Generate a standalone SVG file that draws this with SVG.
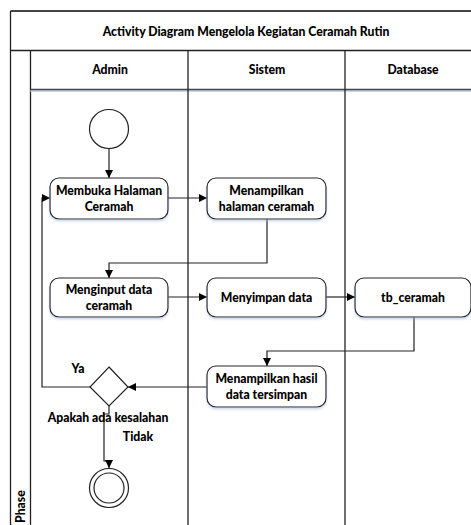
<svg xmlns="http://www.w3.org/2000/svg" width="471" height="525" viewBox="0 0 471 525">
  <defs>
    <marker id="arrow" viewBox="0 0 10 10" refX="10" refY="5" markerWidth="8" markerHeight="8" markerUnits="userSpaceOnUse" orient="auto">
      <path d="M0,0 L10,5 L0,10 Z" fill="#000"/>
    </marker>
    <filter id="shadow" x="-10%" y="-10%" width="130%" height="140%">
      <feDropShadow dx="0" dy="2" stdDeviation="1" flood-color="#9fb3d6" flood-opacity="0.5"/>
    </filter>
  </defs>
  <style>
    text { font-family: Lato, "Liberation Sans", sans-serif; font-weight: 900; font-size: 12.2px; fill: #000; }
    .c { text-anchor: middle; }
    .frame { fill: none; stroke: #222; stroke-width: 1.3; }
    .node { fill: #fff; stroke: #222; stroke-width: 1.2; filter: url(#shadow); }
    .edge { fill: none; stroke: #222; stroke-width: 1.2; }
  </style>

  <rect width="471" height="525" fill="#fff"/>

  <!-- pool and swimlanes -->
  <g id="pool">
    <line x1="10.5" y1="11" x2="471" y2="11" stroke="#444" stroke-width="2"/>
    <line x1="10.5" y1="11" x2="10.5" y2="525" class="frame"/>
    <line x1="10.5" y1="50.5" x2="471" y2="50.5" class="frame"/>
    <line x1="30.5" y1="50.5" x2="30.5" y2="525" class="frame"/>
    <line x1="30.5" y1="91" x2="471" y2="91" stroke="#c9d3e6" stroke-width="2"/>
    <line x1="30.5" y1="89.5" x2="471" y2="89.5" stroke="#444" stroke-width="1.3"/>
    <line x1="188" y1="50.5" x2="188" y2="525" class="frame"/>
    <line x1="345" y1="50.5" x2="345" y2="525" class="frame"/>
    <text x="246" y="36" class="c">Activity Diagram Mengelola Kegiatan Ceramah Rutin</text>
    <text x="110" y="74" class="c">Admin</text>
    <text x="267" y="74" class="c">Sistem</text>
    <text x="413" y="74" class="c">Database</text>
    <text transform="translate(25,523) rotate(-90)">Phase</text>
  </g>

  <!-- connectors -->
  <g id="connectors">
    <line x1="109" y1="149" x2="109" y2="178" class="edge" marker-end="url(#arrow)"/>
    <line x1="168" y1="198" x2="207" y2="198" class="edge" marker-end="url(#arrow)"/>
    <path d="M267,219 V263 H109 V278" class="edge" marker-end="url(#arrow)"/>
    <line x1="168" y1="297" x2="207" y2="297" class="edge" marker-end="url(#arrow)"/>
    <line x1="326" y1="297" x2="355" y2="297" class="edge" marker-end="url(#arrow)"/>
    <path d="M414,317 V351 H267 V366" class="edge" marker-end="url(#arrow)"/>
    <line x1="207" y1="387" x2="128" y2="387" class="edge" marker-end="url(#arrow)"/>
    <path d="M90,387 H42 V198 H50" class="edge" marker-end="url(#arrow)"/>
    <path d="M109,406 V414 H104 V461 H109 V468" class="edge" marker-end="url(#arrow)"/>
  </g>

  <!-- nodes -->
  <g id="start">
    <circle cx="109" cy="129" r="19.5" fill="#fff" stroke="#222" stroke-width="1.2"/>
  </g>

  <g id="membuka-halaman">
    <rect x="50" y="178" width="118" height="41" rx="9" class="node"/>
    <text x="109" y="195" class="c">Membuka Halaman</text>
    <text x="109" y="211" class="c">Ceramah</text>
  </g>

  <g id="menampilkan-halaman">
    <rect x="207" y="178" width="119" height="41" rx="9" class="node"/>
    <text x="266.5" y="195" class="c">Menampilkan</text>
    <text x="266.5" y="211" class="c">halaman ceramah</text>
  </g>

  <g id="menginput-data">
    <rect x="50" y="278" width="118" height="39" rx="9" class="node"/>
    <text x="109" y="294" class="c">Menginput data</text>
    <text x="109" y="310" class="c">ceramah</text>
  </g>

  <g id="menyimpan-data">
    <rect x="207" y="278" width="119" height="39" rx="9" class="node"/>
    <text x="266.5" y="302" class="c">Menyimpan data</text>
  </g>

  <g id="tb-ceramah">
    <rect x="355" y="278" width="116" height="39" rx="9" class="node"/>
    <text x="413" y="302" class="c">tb_ceramah</text>
  </g>

  <g id="menampilkan-hasil">
    <rect x="207" y="366" width="119" height="41" rx="9" class="node"/>
    <text x="266.5" y="383" class="c">Menampilkan hasil</text>
    <text x="266.5" y="399" class="c">data tersimpan</text>
  </g>

  <g id="decision">
    <polygon points="109,367 128,387 109,406 90,387" fill="#fff" stroke="#222" stroke-width="1.2"/>
    <text x="78" y="373" class="c">Ya</text>
    <text x="108" y="422" class="c">Apakah ada kesalahan</text>
    <text x="138" y="441" class="c">Tidak</text>
  </g>

  <g id="end">
    <circle cx="109" cy="488" r="19.5" fill="#fff" stroke="#222" stroke-width="1.2"/>
    <circle cx="109" cy="488" r="15" fill="#fff" stroke="#222" stroke-width="1.2"/>
  </g>
</svg>
